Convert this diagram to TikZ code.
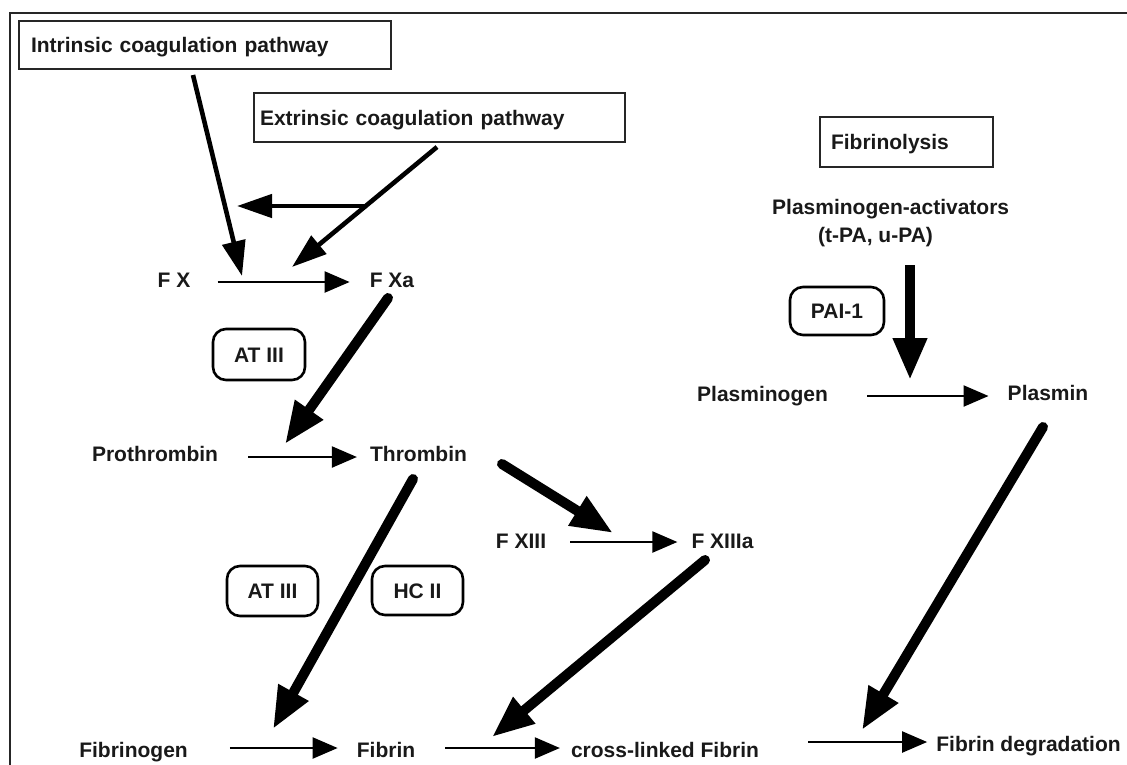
\documentclass[tikz,border=0pt]{standalone}
\usepackage{fontspec}
\setmainfont{Liberation Sans}
\usetikzlibrary{arrows.meta}
\begin{document}
\begin{tikzpicture}[x=1pt,y=-1pt,
  every node/.style={font=\fontsize{21}{25}\selectfont\bfseries, text=black!90},
  lbl/.style={inner sep=0pt, text height=15pt, text depth=0pt},
  sqbox/.style={draw=black!85, line width=2pt, inner ysep=0pt, text height=15pt, text depth=0pt, align=left},
  rbox/.style={draw=black, line width=2.6pt, rounded corners=13pt, inner sep=0pt, text height=15pt, text depth=0pt},
  thinarr/.style={line width=2.2pt, -{Triangle[length=25pt,width=21pt]}},
  medarr/.style={line width=4.6pt, -{Triangle[length=35pt,width=23pt]}},
  thickarr/.style={line width=10pt, line cap=round, -{Triangle[length=42pt,width=32pt]}}
]
\useasboundingbox (0,0) rectangle (1127,764);
\begin{scope}
  \clip (0,0) rectangle (1127,764);
  \draw[line width=2pt, black!85] (10,13) rectangle (1160,800);
\end{scope}

% boxes
\node[sqbox, minimum height=48pt, inner xsep=12pt, text width=348pt] (intr) at (205,45) {Intrinsic coagulation pathway};
\node[sqbox, minimum height=49pt, inner xsep=6pt, text width=359pt] (extr) at (439.5,117.5) {Extrinsic coagulation pathway};
\node[sqbox, minimum height=50pt, inner xsep=11pt, text width=151pt] (fibl) at (906.5,142) {Fibrinolysis};

% inhibitor boxes
\node[rbox, minimum width=92pt, minimum height=51pt] (at1) at (259,354.5) {AT III};
\node[rbox, minimum width=91pt, minimum height=50pt] (at2) at (272.5,591) {AT III};
\node[rbox, minimum width=91pt, minimum height=49pt] (hc2) at (417.5,590.5) {HC II};
\node[rbox, minimum width=94pt, minimum height=48pt] (pai) at (837,311) {PAI-1};

% labels
\node[lbl] (fx) at (174,280) {F X};
\node[lbl] (fxa) at (392,280) {F Xa};
\node[lbl] (proth) at (155,454) {Prothrombin};
\node[lbl] (throm) at (418.5,454) {Thrombin};
\node[lbl] (fxiii) at (521,541) {F XIII};
\node[lbl] (fxiiia) at (722.5,541) {F XIIIa};
\node[lbl] (fibgen) at (133.5,750) {Fibrinogen};
\node[lbl] (fibrin) at (386,750) {Fibrin};
\node[lbl] (xfib) at (665,750) {cross-linked Fibrin};
\node[lbl] (fdeg) at (1028.5,744) {Fibrin degradation};
\node[lbl] (plgen) at (762.5,394) {Plasminogen};
\node[lbl] (plasmin) at (1048,393) {Plasmin};
\node[inner sep=0pt, align=left, anchor=north west, font=\fontsize{21}{28}\selectfont\bfseries] (pa) at (772,199) {Plasminogen-activators\\\hspace*{46pt}(t-PA, u-PA)};

% free ends of connectors
\coordinate (i1) at (193,75);   \coordinate (i2) at (242,276);
\coordinate (e1) at (437,147);  \coordinate (e2) at (292,267);
\coordinate (s1) at (366,206);  \coordinate (s2) at (237,206);
\coordinate (t1) at (388,298);  \coordinate (t2) at (285,444);
\coordinate (t3) at (413,479);  \coordinate (t4) at (273,729);
\coordinate (t5) at (502,464);  \coordinate (t6) at (613,533);
\coordinate (t7) at (705,560);  \coordinate (t8) at (492,737);
\coordinate (t9) at (1043,427); \coordinate (t10) at (862,730);
\coordinate (t11) at (910,265); \coordinate (t12) at (910,380);
\coordinate (fd1) at (808,742);

% thin reaction arrows
\draw[thinarr] ([xshift=27pt,yshift=-2pt]fx.east) -- ([xshift=-20pt,yshift=-2pt]fxa.west);
\draw[thinarr] ([xshift=30pt,yshift=-3pt]proth.east) -- ([xshift=-13pt,yshift=-3pt]throm.west);
\draw[thinarr] ([xshift=24pt,yshift=-1pt]fxiii.east) -- ([xshift=-14pt,yshift=-1pt]fxiiia.west);
\draw[thinarr] ([xshift=42pt,yshift=2pt]fibgen.east) -- ([xshift=-19pt,yshift=2pt]fibrin.west);
\draw[thinarr] ([xshift=30pt,yshift=2pt]fibrin.east) -- ([xshift=-11pt,yshift=2pt]xfib.west);
\draw[thinarr] (fd1) -- ([xshift=-9pt,yshift=2pt]fdeg.west);
\draw[thinarr] ([xshift=39pt,yshift=-2pt]plgen.east) -- ([xshift=-19pt,yshift=-3pt]plasmin.west);

% pathway arrows
\draw[medarr] (i1) -- (i2);
\draw[medarr] (e1) -- (e2);
\draw[medarr] (s1) -- (s2);

% thick arrows
\draw[thickarr] (t1) -- (t2);
\draw[thickarr] (t3) -- (t4);
\draw[thickarr] (t5) -- (t6);
\draw[thickarr] (t7) -- (t8);
\draw[thickarr] (t9) -- (t10);
\draw[thickarr, line cap=butt] (t11) -- (t12);
\end{tikzpicture}
\end{document}
